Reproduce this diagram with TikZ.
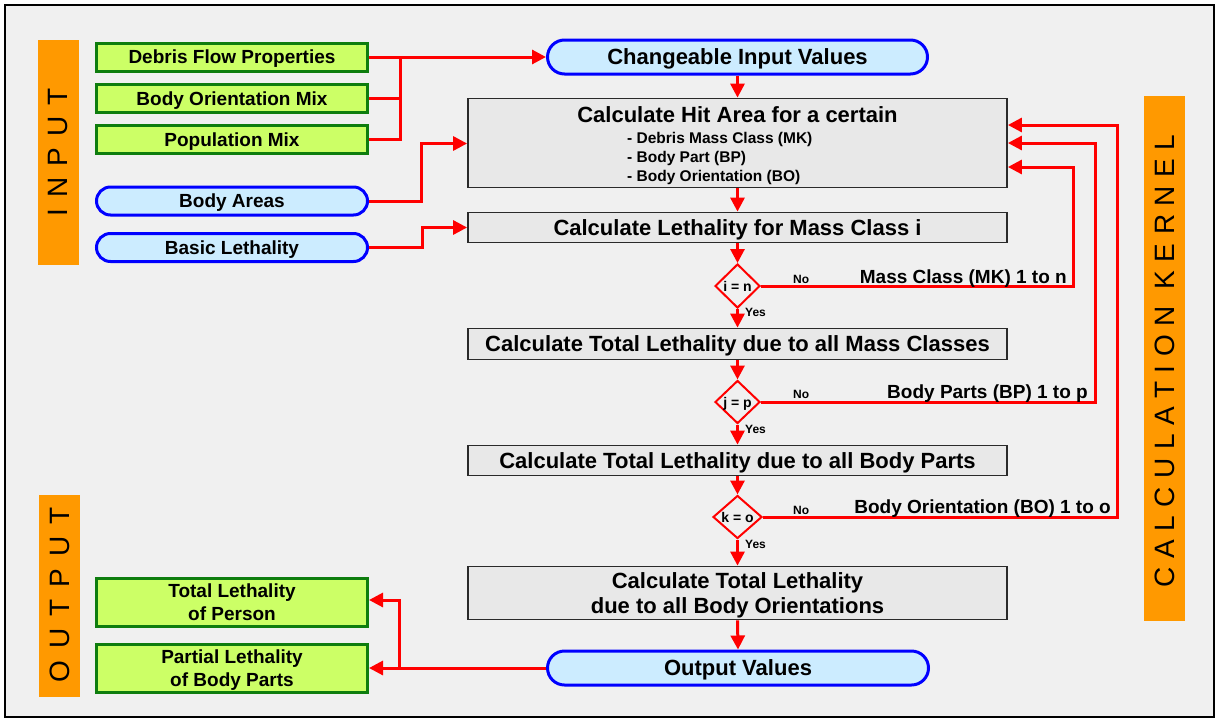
\documentclass[tikz,border=0pt]{standalone}
\usepackage{fontspec}
\setmainfont{Liberation Sans}
\usetikzlibrary{arrows.meta,shapes.geometric}
\definecolor{bgc}{HTML}{F0F0F0}
\definecolor{orng}{HTML}{FF9900}
\definecolor{grfill}{HTML}{CCFF66}
\definecolor{grline}{HTML}{0E7D0E}
\definecolor{blfill}{HTML}{CCECFF}
\definecolor{blline}{HTML}{0000FF}
\definecolor{gyfill}{HTML}{E8E8E8}
\definecolor{gyline}{HTML}{2A2A2A}
\definecolor{rd}{HTML}{FF0000}
\newcommand\fs[2]{\fontsize{#1}{#2}\selectfont}
\begin{document}
\begin{tikzpicture}[x=1pt,y=-1pt,
  greenbox/.style={draw=grline,fill=grfill,line width=3pt,minimum width=271pt,inner sep=0pt,text depth=0pt,font=\fs{19}{23}\bfseries,align=center},
  bluebox/.style={draw=blline,fill=blfill,line width=3pt,inner sep=0pt,text depth=0pt,font=\fs{19}{23}\bfseries},
  graybox/.style={draw=gyline,fill=gyfill,line width=1.8pt,minimum width=539pt,inner sep=0pt,text depth=0pt,font=\fs{22}{25}\bfseries,align=center},
  dec/.style={diamond,draw=rd,fill=bgc,line width=2pt,inner sep=0pt,text depth=0pt,font=\fs{14}{16}\bfseries},
  conn/.style={draw=rd,line width=3pt},
  arr/.style={conn,-{Triangle[length=14pt,width=14pt]}},
  lab/.style={font=\fs{19}{23}\bfseries,inner sep=0pt},
  small/.style={font=\fs{12}{14}\bfseries,inner sep=0pt},
  sidebar/.style={fill=orng},
  sidetext/.style={rotate=90,font=\fs{28}{30},inner sep=0pt}
]
\useasboundingbox (0,0) rectangle (1217,720);
\fill[white] (0,0) rectangle (1217,720);
\filldraw[fill=bgc,draw=black,line width=2pt] (5,5) rectangle (1214,717);

% side bars
\fill[sidebar] (38,40) rectangle (79,265);
\node[sidetext] (tin) at (58.5,152.5) {I\kern11pt N\kern11pt P\kern11pt U\kern11pt T};
\fill[sidebar] (39,495) rectangle (80,697);
\node[sidetext] (tout) at (59.5,595) {O\kern12pt U\kern12pt T\kern12pt P\kern12pt U\kern12pt T};
\fill[sidebar] (1144,96) rectangle (1185,621);
\node[sidetext] (tcalc) at (1164.5,361) {C\kern8.5pt A\kern8.5pt L\kern8.5pt C\kern8.5pt U\kern8.5pt L\kern8.5pt A\kern8.5pt T\kern8.5pt I\kern8.5pt O\kern8.5pt N\kern17pt K\kern8.5pt E\kern8.5pt R\kern8.5pt N\kern8.5pt E\kern8.5pt L};

% input boxes
\node[greenbox,minimum height=28pt] (deb) at (232,57) {Debris Flow Properties};
\node[greenbox,minimum height=28pt] (bom) at (232,98.5) {Body Orientation Mix};
\node[greenbox,minimum height=28pt] (pop) at (232,139.5) {Population Mix};
\node[bluebox,minimum width=271pt,minimum height=28pt,rounded corners=14pt] (bar) at (232,201) {Body Areas};
\node[bluebox,minimum width=271pt,minimum height=28pt,rounded corners=14pt] (bl) at (232,247.5) {Basic Lethality};

% central column
\node[bluebox,minimum width=380pt,minimum height=34pt,rounded corners=17pt,font=\fs{22}{25}\bfseries] (chg) at (737.5,57) {Changeable Input Values};
\node[graybox,minimum height=89pt] (hit) at (737.5,143) {};
\node[inner sep=0pt,text depth=0pt,font=\fs{22}{25}\bfseries] (hitt) at (737.5,115) {Calculate Hit Area for a certain};
\node[inner sep=0pt,anchor=west,align=left,font=\fs{15.5}{19}\bfseries] (hitl) at (627,158) {- Debris Mass Class (MK)\\- Body Part (BP)\\- Body Orientation (BO)};
\node[graybox,minimum height=30pt] (leth) at (737.5,227.5) {Calculate Lethality for Mass Class i};
\node[dec,minimum width=45pt,minimum height=44pt] (d1) at (737.5,286) {i = n};
\node[graybox,minimum height=31pt] (tmc) at (737.5,344) {Calculate Total Lethality due to all Mass Classes};
\node[dec,minimum width=45pt,minimum height=43pt] (d2) at (737.5,402) {j = p};
\node[graybox,minimum height=30pt] (tbp) at (737.5,460.5) {Calculate Total Lethality due to all Body Parts};
\node[dec,minimum width=49pt,minimum height=43pt] (d3) at (737.5,517) {k = o};
\node[graybox,minimum height=53pt] (tbo) at (737.5,593) {Calculate Total Lethality\\due to all Body Orientations};
\node[bluebox,minimum width=381pt,minimum height=34pt,rounded corners=17pt,font=\fs{22}{25}\bfseries] (out) at (738,668) {Output Values};

% output boxes
\node[greenbox,minimum height=48pt] (tlp) at (232,602.5) {Total Lethality\\of Person};
\node[greenbox,minimum height=48pt] (plb) at (232,668) {Partial Lethality\\of Body Parts};

% input connectors
\coordinate (ij) at (400,57);
\draw[conn] (bom.east) -- (bom.east -| ij);
\draw[conn] (pop.east) -| (ij);
\draw[arr] (deb.east) -- (chg.west);
\coordinate (ba1) at (421.5,143.5);
\draw[arr] (bar.east) -| (ba1) -- (ba1 -| hit.west);
\coordinate (bl1) at (422,227.5);
\draw[arr] (bl.east) -| (bl1) -- (bl1 -| leth.west);

% vertical flow
\draw[arr] (chg.south) -- (hit.north);
\draw[arr] (hit.south) -- (leth.north);
\draw[arr] (leth.south) -- (d1.north);
\draw[arr] (d1.south) -- (tmc.north);
\draw[arr] (tmc.south) -- (d2.north);
\draw[arr] (d2.south) -- (tbp.north);
\draw[arr] (tbp.south) -- (d3.north);
\draw[arr] (d3.south) -- (tbo.north);
\draw[arr] (tbo.south) -- (out.north);

% loops
\coordinate (r1) at (1073,167);
\coordinate (r2) at (1095,143);
\coordinate (r3) at (1117,125);
\draw[arr] (d1.east) -| (r1) -- (r1 -| hit.east);
\draw[arr] (d2.east) -| (r2) -- (r2 -| hit.east);
\draw[arr] (d3.east) -| (r3) -- (r3 -| hit.east);

% labels
\node[lab,anchor=base east] (l1) at (1067,283) {Mass Class (MK) 1 to n};
\node[lab,anchor=base east] (l2) at (1088,398) {Body Parts (BP) 1 to p};
\node[lab,anchor=base east] (l3) at (1111,513) {Body Orientation (BO) 1 to o};
\node[small,anchor=base west] (n1) at (793,283) {No};
\node[small,anchor=base west] (n2) at (793,398) {No};
\node[small,anchor=base west] (n3) at (793,514) {No};
\node[small,anchor=base west] (y1) at (745,316) {Yes};
\node[small,anchor=base west] (y2) at (745,433) {Yes};
\node[small,anchor=base west] (y3) at (745,548) {Yes};

% output connectors
\draw[arr] (out.west) -- (out.west -| plb.east);
\coordinate (oj) at (399,668);
\coordinate (tj) at (399,600);
\draw[arr] (oj) -- (tj) -- (tj -| tlp.east);
\end{tikzpicture}
\end{document}
